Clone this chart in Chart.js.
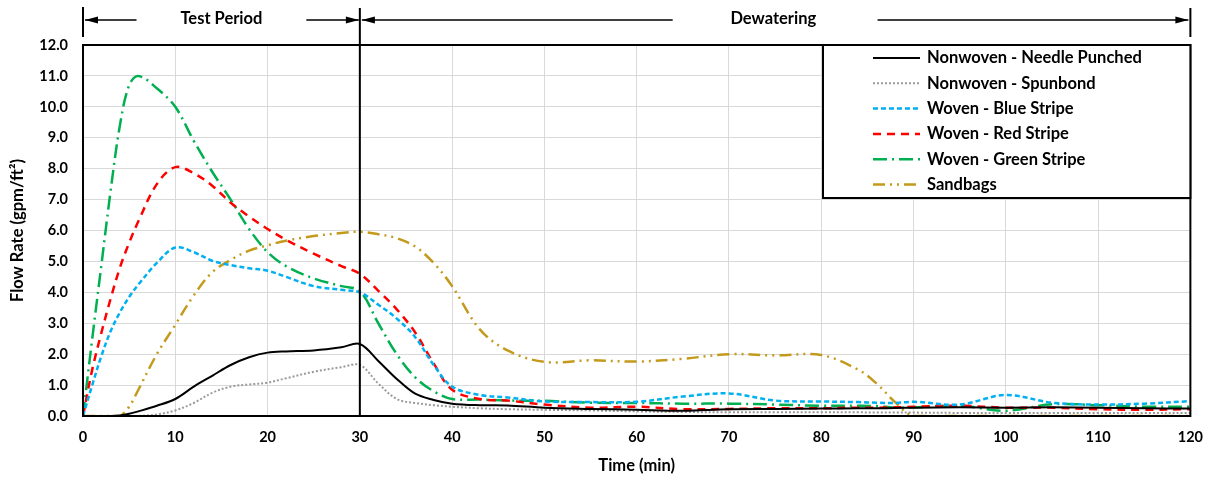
<!DOCTYPE html>
<html>
<head>
<meta charset="utf-8">
<script src="https://cdn.jsdelivr.net/npm/chart.js@4"></script>
<style>
  html, body { margin: 0; padding: 0; background: #fff; }
  #wrap { width: 1216px; height: 481px; }
</style>
</head>
<body>
<div id="wrap"><canvas id="flowChart" width="1216" height="481"></canvas></div>
<script>
// --- Data ---
const timeMin = [0, 1, 2, 3, 4, 5, 6, 8, 10, 12, 14, 16, 18, 20, 22, 25, 28, 30, 32, 34, 36, 38, 40, 43, 46, 50, 55, 60, 65, 70, 75, 80, 84, 86, 88, 90, 95, 100, 105, 110, 115, 120];

const needlePunched = [0, 0, 0, 0, 0.02, 0.07, 0.15, 0.33, 0.55, 0.95, 1.3, 1.65, 1.9, 2.05, 2.09, 2.12, 2.22, 2.33, 1.78, 1.2, 0.72, 0.52, 0.4, 0.35, 0.34, 0.27, 0.23, 0.2, 0.17, 0.22, 0.23, 0.24, 0.25, 0.25, 0.26, 0.27, 0.28, 0.27, 0.28, 0.27, 0.25, 0.24];
const spunbond = [0, 0, 0, 0, 0, 0, 0, 0.05, 0.18, 0.42, 0.75, 0.95, 1.02, 1.08, 1.22, 1.43, 1.58, 1.65, 1.05, 0.55, 0.42, 0.35, 0.3, 0.25, 0.22, 0.2, 0.18, 0.15, 0.13, 0.12, 0.12, 0.12, 0.12, 0.11, 0.11, 0.11, 0.1, 0.1, 0.1, 0.1, 0.1, 0.1];
const blueStripe = [0, 1.0, 1.95, 2.75, 3.35, 3.85, 4.25, 4.95, 5.45, 5.3, 5.02, 4.88, 4.78, 4.7, 4.5, 4.2, 4.08, 4.0, 3.6, 3.15, 2.55, 1.65, 0.95, 0.68, 0.6, 0.47, 0.45, 0.46, 0.63, 0.73, 0.5, 0.47, 0.45, 0.43, 0.42, 0.46, 0.37, 0.68, 0.43, 0.37, 0.4, 0.48];
const redStripe = [0, 1.5, 2.7, 3.8, 4.8, 5.6, 6.3, 7.5, 8.05, 7.85, 7.45, 6.9, 6.45, 6.05, 5.7, 5.25, 4.85, 4.6, 4.05, 3.45, 2.7, 1.7, 0.85, 0.55, 0.5, 0.37, 0.27, 0.3, 0.22, 0.23, 0.25, 0.25, 0.27, 0.27, 0.28, 0.3, 0.33, 0.27, 0.27, 0.22, 0.2, 0.22];
const greenStripe = [0, 2.5, 4.9, 7.3, 9.4, 10.7, 11.0, 10.6, 10.0, 8.9, 7.9, 7.0, 6.05, 5.3, 4.85, 4.45, 4.2, 4.04, 3.0, 2.0, 1.25, 0.8, 0.55, 0.53, 0.5, 0.49, 0.43, 0.42, 0.4, 0.4, 0.37, 0.33, 0.33, 0.32, 0.27, 0.28, 0.33, 0.17, 0.38, 0.35, 0.3, 0.3];
const sandbags = [0, 0, 0, 0, 0, 0.3, 0.85, 2.0, 2.95, 3.9, 4.65, 5.05, 5.35, 5.52, 5.67, 5.82, 5.92, 5.96, 5.88, 5.75, 5.48, 4.95, 4.2, 2.8, 2.12, 1.75, 1.8, 1.76, 1.85, 2.0, 1.96, 1.97, 1.5, 1.05, 0.45, 0, 0, 0, 0, 0, 0, 0];

const seriesNames = ['Nonwoven - Needle Punched', 'Nonwoven - Spunbond', 'Woven - Blue Stripe', 'Woven - Red Stripe', 'Woven - Green Stripe', 'Sandbags'];
const xTicks = [0, 10, 20, 30, 40, 50, 60, 70, 80, 90, 100, 110, 120];
const yTicks = [0, 1, 2, 3, 4, 5, 6, 7, 8, 9, 10, 11, 12];

const FONT = 'Lato, "Open Sans", sans-serif';

function pts(values) {
    return timeMin.map((t, i) => ({ x: t, y: values[i] }));
}

const styles = [
    { color: '#000000', dash: [], width: 2 },
    { color: '#9a9a9a', dash: [2, 2], width: 2 },
    { color: '#00b0f0', dash: [5, 3], width: 2.5 },
    { color: '#ff0000', dash: [8, 6], width: 2.5 },
    { color: '#00b050', dash: [14, 5, 2, 5], width: 2.5 },
    { color: '#c49a1c', dash: [12, 5, 2, 5, 2, 5], width: 2.5 }
];
const seriesData = [needlePunched, spunbond, blueStripe, redStripe, greenStripe, sandbags];

const datasets = seriesNames.map((name, i) => ({
    label: name,
    data: pts(seriesData[i]),
    borderColor: styles[i].color,
    borderDash: styles[i].dash,
    borderWidth: styles[i].width,
    pointRadius: 0,
    fill: false,
    tension: 0.35
}));

// --- Frame, legend box and period annotations ---
const decorations = {
    id: 'decorations',
    afterDraw(chart) {
        const ctx = chart.ctx;
        const a = chart.chartArea;
        const xs = chart.scales.x;
        ctx.save();

        // plot frame
        ctx.strokeStyle = '#000';
        ctx.lineWidth = 2;
        ctx.setLineDash([]);
        ctx.strokeRect(a.left, a.top, a.right - a.left, a.bottom - a.top);

        // divider at end of test period
        const x0 = xs.getPixelForValue(0);
        const x30 = xs.getPixelForValue(30);
        const x120 = xs.getPixelForValue(120);
        ctx.beginPath();
        ctx.moveTo(x30, 8); ctx.lineTo(x30, a.bottom);
        ctx.moveTo(x0, 7); ctx.lineTo(x0, 37);
        ctx.moveTo(x120, 8); ctx.lineTo(x120, 37);
        ctx.stroke();

        // arrows
        const ay = 20;
        const arrow = (from, to) => {
            ctx.lineWidth = 1.5;
            ctx.beginPath();
            ctx.moveTo(from, ay); ctx.lineTo(to, ay);
            ctx.stroke();
            const dir = to > from ? 1 : -1;
            ctx.beginPath();
            ctx.moveTo(to, ay);
            ctx.lineTo(to - dir * 13, ay - 3.5);
            ctx.lineTo(to - dir * 13, ay + 3.5);
            ctx.closePath();
            ctx.fill();
        };
        ctx.fillStyle = '#000';
        arrow(xs.getPixelForValue(5.8), x0 + 2);
        arrow(xs.getPixelForValue(24.2), x30 - 1);
        arrow(xs.getPixelForValue(63.9), x30 + 2);
        arrow(xs.getPixelForValue(86.1), x120 - 2);

        ctx.font = 'bold 16.5px ' + FONT;
        ctx.textAlign = 'center';
        ctx.textBaseline = 'middle';
        ctx.fillText('Test Period', xs.getPixelForValue(15), 19);
        ctx.fillText('Dewatering', xs.getPixelForValue(74.8), 19);

        // legend box
        const lx = 823, ly = a.top, lw = a.right - 823, lh = 153;
        ctx.fillStyle = '#fff';
        ctx.fillRect(lx, ly, lw, lh);
        ctx.lineWidth = 2;
        ctx.strokeRect(lx, ly, lw, lh);
        ctx.textAlign = 'left';
        ctx.font = 'bold 16.5px ' + FONT;
        chart.data.datasets.forEach((ds, i) => {
            const ry = ly + 13 + i * 25.3;
            ctx.strokeStyle = ds.borderColor;
            ctx.lineWidth = ds.borderWidth;
            ctx.setLineDash(ds.borderDash);
            ctx.beginPath();
            ctx.moveTo(873, ry); ctx.lineTo(920, ry);
            ctx.stroke();
            ctx.setLineDash([]);
            ctx.fillStyle = '#000';
            ctx.fillText(ds.label, 927, ry);
        });
        ctx.restore();
    }
};

new Chart(document.getElementById('flowChart'), {
    type: 'line',
    data: { datasets },
    options: {
        responsive: false,
        animation: false,
        layout: { padding: { left: 0, top: 45, right: 24, bottom: 0 } },
        plugins: { legend: { display: false }, tooltip: { enabled: false } },
        scales: {
            x: {
                type: 'linear',
                min: 0, max: 120,
                afterFit: s => { s.height = 65; },
                afterBuildTicks: s => { s.ticks = xTicks.map(v => ({ value: v })); },
                grid: { color: '#d9d9d9', lineWidth: 1, drawTicks: false },
                border: { display: false },
                ticks: { padding: 13, color: '#000', font: { family: FONT, size: 14.5, weight: 'bold' }, maxRotation: 0 },
                title: { display: true, text: 'Time (min)', color: '#000', font: { family: FONT, size: 16.5, weight: 'bold' }, padding: { top: 0, bottom: 5 } }
            },
            y: {
                min: 0, max: 12,
                afterFit: s => { s.width = 83; },
                afterBuildTicks: s => { s.ticks = yTicks.map(v => ({ value: v })); },
                grid: { color: '#d9d9d9', lineWidth: 1, drawTicks: false },
                border: { display: false },
                ticks: { padding: 15, color: '#000', font: { family: FONT, size: 14.5, weight: 'bold' }, callback: v => v.toFixed(1) },
                title: { display: true, text: 'Flow Rate (gpm/ft²)', color: '#000', font: { family: FONT, size: 16.5, weight: 'bold' }, padding: { top: 8, bottom: 0 } }
            }
        }
    },
    plugins: [decorations]
});
</script>
</body>
</html>
